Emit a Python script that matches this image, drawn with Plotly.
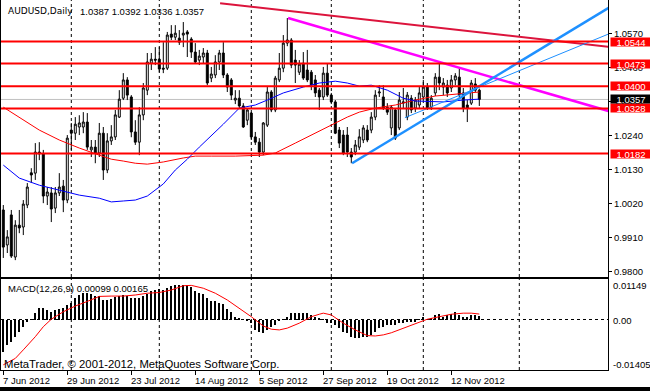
import plotly.graph_objects as go

# ---------------- data ----------------
symbol_name = "AUDUSD,Daily"
symbol_ohlc = "1.0387 1.0392 1.0336 1.0357"
macd_title = "MACD(12,26,9) 0.00099 0.00165"
copyright_text = "MetaTrader, \u00a9 2001-2012, MetaQuotes Software Corp."

date_labels = ["7 Jun 2012", "29 Jun 2012", "23 Jul 2012", "14 Aug 2012",
               "5 Sep 2012", "27 Sep 2012", "19 Oct 2012", "12 Nov 2012"]
date_bars = [0, 16, 32, 48, 64, 80, 96, 112]
month_start_bars = [17, 39, 62, 82, 105, 129]

opens = [1.0000, 0.9887, 0.9984, 0.9848, 0.9951, 0.9945, 1.0016, 1.0120, 1.0119, 1.0187,
         1.0181, 1.0045, 1.0055, 1.0006, 1.0055, 1.0077, 1.0032, 1.0258, 1.0248, 1.0268,
         1.0268, 1.0284, 1.0194, 1.0203, 1.0184, 1.0248, 1.0129, 1.0223, 1.0236, 1.0300,
         1.0361, 1.0420, 1.0365, 1.0252, 1.0219, 1.0307, 1.0387, 1.0474, 1.0487, 1.0487,
         1.0458, 1.0458, 1.0568, 1.0558, 1.0555, 1.0565, 1.0575, 1.0552, 1.0510, 1.0484,
         1.0494, 1.0507, 1.0426, 1.0436, 1.0478, 1.0507, 1.0436, 1.0420, 1.0355, 1.0361,
         1.0336, 1.0290, 1.0313, 1.0236, 1.0219, 1.0187, 1.0274, 1.0381, 1.0323, 1.0420,
         1.0458, 1.0539, 1.0549, 1.0484, 1.0445, 1.0474, 1.0452, 1.0445, 1.0420, 1.0387,
         1.0365, 1.0442, 1.0371, 1.0349, 1.0258, 1.0242, 1.0242, 1.0187, 1.0187, 1.0203,
         1.0226, 1.0258, 1.0258, 1.0300, 1.0378, 1.0365, 1.0332, 1.0265, 1.0323, 1.0265,
         1.0345, 1.0300, 1.0361, 1.0329, 1.0339, 1.0365, 1.0397, 1.0332, 1.0378, 1.0429,
         1.0397, 1.0403, 1.0394, 1.0420, 1.0429, 1.0378, 1.0339, 1.0345, 1.0407, 1.0387]
highs = [1.0016, 0.9935, 1.0000, 0.9967, 1.0000, 1.0032, 1.0087, 1.0135, 1.0216, 1.0219,
         1.0194, 1.0074, 1.0074, 1.0074, 1.0119, 1.0097, 1.0242, 1.0281, 1.0300, 1.0306,
         1.0316, 1.0313, 1.0226, 1.0226, 1.0281, 1.0268, 1.0248, 1.0274, 1.0323, 1.0387,
         1.0442, 1.0429, 1.0371, 1.0290, 1.0332, 1.0410, 1.0507, 1.0507, 1.0526, 1.0526,
         1.0542, 1.0575, 1.0597, 1.0597, 1.0581, 1.0607, 1.0581, 1.0558, 1.0539, 1.0517,
         1.0523, 1.0517, 1.0462, 1.0500, 1.0517, 1.0542, 1.0442, 1.0426, 1.0387, 1.0387,
         1.0345, 1.0329, 1.0323, 1.0252, 1.0232, 1.0284, 1.0397, 1.0387, 1.0433, 1.0507,
         1.0565, 1.0620, 1.0555, 1.0517, 1.0484, 1.0510, 1.0517, 1.0452, 1.0436, 1.0394,
         1.0462, 1.0474, 1.0378, 1.0355, 1.0268, 1.0258, 1.0268, 1.0200, 1.0226, 1.0261,
         1.0274, 1.0274, 1.0316, 1.0387, 1.0403, 1.0403, 1.0345, 1.0339, 1.0329, 1.0381,
         1.0394, 1.0381, 1.0371, 1.0365, 1.0397, 1.0420, 1.0410, 1.0371, 1.0442, 1.0474,
         1.0426, 1.0420, 1.0436, 1.0442, 1.0458, 1.0394, 1.0355, 1.0420, 1.0426, 1.0392]
lows = [0.9845, 0.9861, 0.9845, 0.9838, 0.9925, 0.9919, 1.0006, 1.0087, 1.0097, 1.0161,
        1.0022, 1.0016, 0.9961, 0.9990, 1.0045, 0.9993, 1.0022, 1.0194, 1.0226, 1.0242,
        1.0248, 1.0194, 1.0171, 1.0151, 1.0171, 1.0097, 1.0119, 1.0210, 1.0226, 1.0297,
        1.0355, 1.0355, 1.0235, 1.0210, 1.0177, 1.0290, 1.0371, 1.0452, 1.0468, 1.0445,
        1.0442, 1.0452, 1.0549, 1.0549, 1.0533, 1.0526, 1.0494, 1.0491, 1.0474, 1.0468,
        1.0474, 1.0403, 1.0413, 1.0426, 1.0452, 1.0426, 1.0381, 1.0355, 1.0342, 1.0329,
        1.0265, 1.0274, 1.0226, 1.0210, 1.0171, 1.0177, 1.0268, 1.0316, 1.0316, 1.0413,
        1.0445, 1.0529, 1.0458, 1.0410, 1.0436, 1.0420, 1.0413, 1.0387, 1.0365, 1.0323,
        1.0355, 1.0365, 1.0342, 1.0245, 1.0200, 1.0177, 1.0171, 1.0151, 1.0177, 1.0194,
        1.0216, 1.0219, 1.0248, 1.0290, 1.0365, 1.0323, 1.0307, 1.0242, 1.0226, 1.0258,
        1.0329, 1.0290, 1.0313, 1.0316, 1.0329, 1.0355, 1.0323, 1.0323, 1.0368, 1.0387,
        1.0371, 1.0365, 1.0381, 1.0403, 1.0365, 1.0316, 1.0284, 1.0339, 1.0381, 1.0336]
closes = [0.9880, 0.9913, 0.9851, 0.9951, 0.9942, 1.0019, 1.0074, 1.0113, 1.0187, 1.0181,
          1.0045, 1.0058, 1.0003, 1.0055, 1.0074, 1.0032, 1.0232, 1.0248, 1.0277, 1.0281,
          1.0284, 1.0203, 1.0203, 1.0184, 1.0248, 1.0129, 1.0223, 1.0236, 1.0307, 1.0358,
          1.0420, 1.0371, 1.0252, 1.0219, 1.0307, 1.0394, 1.0478, 1.0487, 1.0484, 1.0455,
          1.0455, 1.0565, 1.0558, 1.0571, 1.0542, 1.0571, 1.0568, 1.0510, 1.0478, 1.0497,
          1.0507, 1.0410, 1.0439, 1.0478, 1.0507, 1.0436, 1.0397, 1.0371, 1.0361, 1.0336,
          1.0268, 1.0323, 1.0236, 1.0219, 1.0187, 1.0281, 1.0381, 1.0323, 1.0426, 1.0458,
          1.0539, 1.0549, 1.0468, 1.0468, 1.0471, 1.0426, 1.0420, 1.0403, 1.0378, 1.0365,
          1.0442, 1.0371, 1.0349, 1.0248, 1.0216, 1.0184, 1.0187, 1.0171, 1.0210, 1.0236,
          1.0265, 1.0226, 1.0300, 1.0371, 1.0381, 1.0329, 1.0316, 1.0332, 1.0232, 1.0355,
          1.0349, 1.0371, 1.0323, 1.0355, 1.0378, 1.0397, 1.0329, 1.0361, 1.0429, 1.0410,
          1.0410, 1.0378, 1.0420, 1.0433, 1.0371, 1.0329, 1.0329, 1.0410, 1.0387, 1.0357]
bars = list(range(len(opens)))

ma_red_bars = [0, 4, 9, 14, 19, 24, 27, 30, 33, 36, 40, 45, 48, 52, 58, 65, 68, 73, 78, 83,
               86, 89, 93, 98, 103, 108, 113, 119]
ma_red_vals = [1.0332, 1.0300, 1.0258, 1.0226, 1.0200, 1.0177, 1.0164, 1.0158, 1.0151, 1.0148,
               1.0155, 1.0168, 1.0174, 1.0174, 1.0174, 1.0177, 1.0184, 1.0216, 1.0248, 1.0281,
               1.0300, 1.0316, 1.0329, 1.0339, 1.0355, 1.0368, 1.0374, 1.0381]
ma_blue_bars = [0, 4, 9, 14, 19, 24, 27, 30, 33, 36, 40, 43, 46, 49, 52, 55, 59, 63, 66, 70,
                75, 79, 83, 86, 89, 92, 96, 100, 103, 107, 110, 115, 119]
ma_blue_vals = [1.0145, 1.0103, 1.0080, 1.0064, 1.0048, 1.0038, 1.0026, 1.0029, 1.0032, 1.0045,
                1.0084, 1.0129, 1.0164, 1.0203, 1.0239, 1.0277, 1.0329, 1.0339, 1.0355, 1.0378,
                1.0397, 1.0410, 1.0416, 1.0410, 1.0400, 1.0403, 1.0387, 1.0361, 1.0352, 1.0349,
                1.0349, 1.0355, 1.0358]

macd_hist = [-0.0090, -0.0070, -0.0061, -0.0047, -0.0033, -0.0019, -0.0005, 0.0002, 0.0019, 0.0033,
             0.0033, 0.0028, 0.0023, 0.0028, 0.0030, 0.0033, 0.0042, 0.0047, 0.0061, 0.0070,
             0.0075, 0.0075, 0.0073, 0.0068, 0.0066, 0.0056, 0.0056, 0.0058, 0.0064, 0.0066,
             0.0070, 0.0068, 0.0061, 0.0061, 0.0061, 0.0066, 0.0073, 0.0080, 0.0084, 0.0087,
             0.0084, 0.0089, 0.0096, 0.0098, 0.0098, 0.0098, 0.0097, 0.0092, 0.0082, 0.0077,
             0.0073, 0.0061, 0.0054, 0.0052, 0.0047, 0.0044, 0.0030, 0.0021, 0.0009, 0.0005,
             0.0001, -0.0002, -0.0009, -0.0028, -0.0033, -0.0037, -0.0028, -0.0021, -0.0014, -0.0002,
             0.0002, 0.0009, 0.0019, 0.0019, 0.0019, 0.0019, 0.0019, 0.0014, 0.0009, 0.0005,
             0.0001, -0.0008, -0.0009, -0.0014, -0.0023, -0.0033, -0.0037, -0.0047, -0.0052, -0.0052,
             -0.0047, -0.0047, -0.0042, -0.0033, -0.0023, -0.0019, -0.0014, -0.0014, -0.0014, -0.0009,
             -0.0008, -0.0005, -0.0005, -0.0005, 0.0001, 0.0007, 0.0002, 0.0005, 0.0014, 0.0017,
             0.0009, 0.0014, 0.0017, 0.0021, 0.0014, 0.0009, 0.0009, 0.0014, 0.0014, 0.00099]
signal_bars = [0, 3, 5, 8, 10, 12, 15, 18, 21, 24, 27, 30, 33, 36, 39, 42, 45, 47, 50, 53,
               56, 59, 62, 65, 67, 69, 71, 74, 77, 79, 80, 82, 85, 88, 91, 93, 95, 97, 100, 103,
               106, 109, 112, 115, 117, 119]
signal_vals = [-0.0126, -0.0108, -0.0084, -0.0047, -0.0019, 0.0002, 0.0023, 0.0039, 0.0052, 0.0066,
               0.0067, 0.0067, 0.0070, 0.0075, 0.0077, 0.0084, 0.0096, 0.0097, 0.0089, 0.0075,
               0.0056, 0.0033, 0.0009, -0.0017, -0.0026, -0.0028, -0.0023, -0.0009, 0.0009, 0.0016,
               0.0019, 0.0014, -0.0009, -0.0028, -0.0044, -0.0045, -0.0042, -0.0036, -0.0023, -0.0009,
               0.0002, 0.0009, 0.0016, 0.0019, 0.0019, 0.00165]

levels = [1.0544, 1.0473, 1.0400, 1.0328, 1.0182]
bid_price = 1.0357
price_ticks = [0.9800, 0.9910, 1.0020, 1.0130, 1.0240, 1.0350, 1.0460, 1.0570]
macd_scale_labels = ["0.01149", "0.00", "-0.01405"]

# trend lines: (bar, price) anchor points
crimson_bars = [54.2, 152.0]
crimson_vals = [1.0668, 1.0526]
magenta_bars = [71.2, 152.0]
magenta_vals = [1.0620, 1.0317]
blue_thick_bars = [87.2, 152.0]
blue_thick_vals = [1.0151, 1.0658]
blue_thin_bars = [100.4, 152.0]
blue_thin_vals = [1.0298, 1.0572]

# ---------------- layout helpers ----------------
W, H = 650, 391
ML, MR, MT, MB = 1, 42, 0, 0
PW = W - ML - MR


def px(x):
    return (x - ML) / PW


def py(y):
    return 1 - y / H


FONT = "Liberation Sans"
FS = 9.5

x_range = [(ML - 3.3) / 4, (W - MR - 3.3) / 4]
main_range = [0.97835, 1.06782]
macd_range = [-0.01405, 0.01149]
main_dom = [py(277), 1.0]
macd_dom = [py(370), py(279)]

fig = go.Figure()

fig.add_trace(go.Candlestick(
    x=bars, open=opens, high=highs, low=lows, close=closes,
    increasing=dict(line=dict(color="black", width=1), fillcolor="white"),
    decreasing=dict(line=dict(color="black", width=1), fillcolor="black"),
    whiskerwidth=0, xaxis="x", yaxis="y", hoverinfo="skip"))

fig.add_trace(go.Scatter(x=ma_red_bars, y=ma_red_vals, mode="lines",
                         line=dict(color="#FF0000", width=1), xaxis="x", yaxis="y"))
fig.add_trace(go.Scatter(x=ma_blue_bars, y=ma_blue_vals, mode="lines",
                         line=dict(color="#0000FF", width=1), xaxis="x", yaxis="y"))

for bx, by, col, w in [(crimson_bars, crimson_vals, "#DC143C", 2),
                       (magenta_bars, magenta_vals, "#FF00FF", 2.5),
                       (blue_thick_bars, blue_thick_vals, "#1E90FF", 2.5),
                       (blue_thin_bars, blue_thin_vals, "#1E90FF", 1)]:
    fig.add_trace(go.Scatter(x=bx, y=by, mode="lines", line=dict(color=col, width=w),
                             xaxis="x", yaxis="y"))

fig.add_trace(go.Bar(x=bars, y=macd_hist, width=0.25, marker=dict(color="black", line=dict(width=0)),
                     xaxis="x2", yaxis="y2"))
fig.add_trace(go.Scatter(x=signal_bars, y=signal_vals, mode="lines",
                         line=dict(color="#FF0000", width=1), xaxis="x2", yaxis="y2"))

shapes = []
for b in month_start_bars:
    for d in (main_dom, macd_dom):
        shapes.append(dict(type="line", xref="x", yref="paper", x0=b, x1=b, y0=d[0], y1=d[1],
                           line=dict(color="black", width=1, dash="3px,3px"), layer="below"))
shapes.append(dict(type="line", xref="paper", yref="y", x0=0, x1=1, y0=bid_price, y1=bid_price,
                   line=dict(color="#C0C0C0", width=1), layer="below"))
for lv in levels:
    shapes.append(dict(type="line", xref="paper", yref="y", x0=0, x1=1, y0=lv, y1=lv,
                       line=dict(color="#FF0000", width=2), layer="above"))
# bottom window frame
shapes.append(dict(type="rect", xref="paper", yref="paper", x0=px(0), x1=px(W), y0=py(H), y1=py(387),
                   fillcolor="black", line=dict(width=0), layer="above"))

ann = []
ann.append(dict(text=symbol_name, xref="paper", yref="paper", x=px(6), y=py(11), xanchor="left",
                yanchor="middle", showarrow=False, font=dict(family="DejaVu Sans", size=9, color="black")))
ann.append(dict(text=symbol_ohlc, xref="paper", yref="paper", x=px(78), y=py(11), xanchor="left",
                yanchor="middle", showarrow=False, font=dict(family=FONT, size=FS, color="black")))
ann.append(dict(text=macd_title, xref="paper", yref="paper", x=px(6), y=py(288), xanchor="left",
                yanchor="middle", showarrow=False, font=dict(family=FONT, size=FS, color="black")))
ann.append(dict(text=copyright_text, xref="paper", yref="paper", x=px(2), y=py(364), xanchor="left",
                yanchor="middle", showarrow=False, font=dict(family=FONT, size=11.3, color="black")))
for lv in levels:
    ann.append(dict(text=f"{lv:.4f}", xref="paper", yref="y", x=px(610), y=lv, xanchor="left",
                    yanchor="middle", showarrow=False, bgcolor="#FF0000", width=40, height=8,
                    borderpad=0, font=dict(family=FONT, size=FS, color="white")))
ann.append(dict(text=f"{bid_price:.4f}", xref="paper", yref="y", x=px(610), y=bid_price, xanchor="left",
                yanchor="middle", showarrow=False, bgcolor="black", width=40, height=8,
                borderpad=0, font=dict(family=FONT, size=FS, color="white")))
macd_label_y = [285, 320, 364]
for t, yy in zip(macd_scale_labels, macd_label_y):
    ann.append(dict(text=t, xref="paper", yref="paper", x=px(611), y=py(yy), xanchor="left",
                    yanchor="middle", showarrow=False, font=dict(family=FONT, size=FS, color="black")))
for t, b in zip(date_labels, date_bars):
    ann.append(dict(text=t, xref="x2", yref="paper", x=b, xshift=-2, y=py(380), xanchor="left",
                    yanchor="middle", showarrow=False, font=dict(family=FONT, size=FS, color="black")))

axis_common = dict(showgrid=False, zeroline=False, showline=True, mirror=True,
                   linecolor="black", linewidth=1)

fig.update_layout(
    width=W, height=H, margin=dict(l=ML, r=MR, t=MT, b=MB),
    paper_bgcolor="white", plot_bgcolor="white", showlegend=False,
    bargap=0, shapes=shapes, annotations=ann,
    xaxis=dict(domain=[0, 1], anchor="y", range=x_range, showticklabels=False, ticks="",
               rangeslider=dict(visible=False), **axis_common),
    yaxis=dict(domain=main_dom, anchor="x", side="right", range=main_range,
               tickvals=price_ticks, ticktext=[f"{v:.4f}" for v in price_ticks],
               ticks="outside", ticklen=3, tickcolor="black",
               tickfont=dict(family=FONT, size=FS, color="black"), **axis_common),
    xaxis2=dict(domain=[0, 1], anchor="y2", range=x_range, matches="x", showticklabels=False,
                tickvals=date_bars, ticks="outside", ticklen=4, tickcolor="black", **axis_common),
    yaxis2=dict(domain=macd_dom, anchor="x2", side="right", range=macd_range,
                tickvals=[0], showticklabels=False, ticks="",
                showgrid=True, gridcolor="black", gridwidth=1, griddash="3px,3px",
                zeroline=False, showline=True, mirror=True, linecolor="black", linewidth=1),
)

fig.write_html("out.html", config={"displayModeBar": False},
               post_script="document.body.style.margin='0';document.body.style.overflow='hidden';")
